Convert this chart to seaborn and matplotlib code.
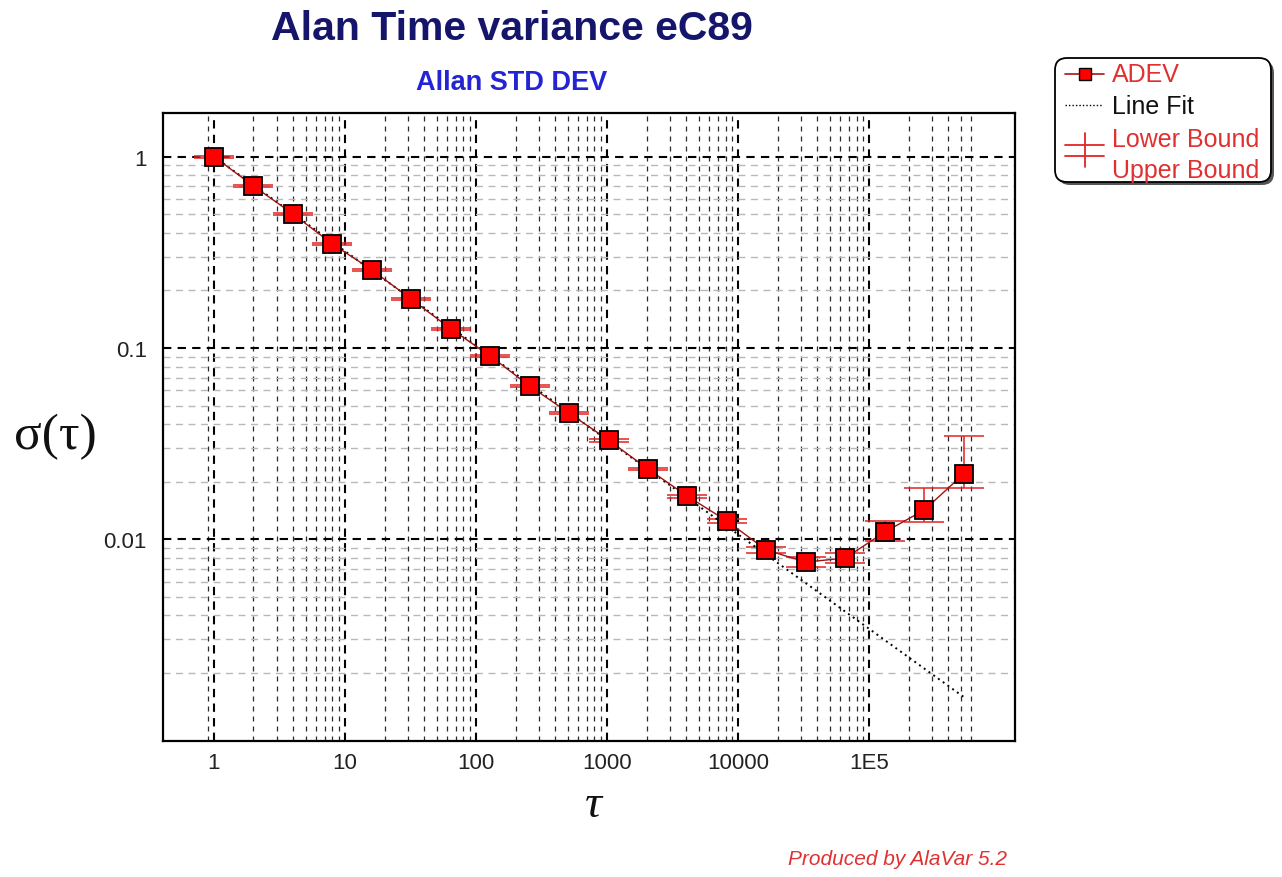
import matplotlib
matplotlib.use("Agg")
import matplotlib.pyplot as plt
import numpy as np
import pandas as pd
import seaborn as sns
from matplotlib.patches import FancyBboxPatch
from matplotlib.lines import Line2D
from matplotlib.ticker import FixedLocator, FixedFormatter, NullFormatter

# ---------------- data ----------------
tau = [1, 2, 4, 8, 16, 32, 64, 128, 256, 512, 1024, 2048, 4096, 8192,
       16384, 32768, 65536, 131072, 262144, 524288]
adev = [1.0, 0.703, 0.502, 0.350, 0.256, 0.180, 0.126, 0.0909, 0.0633, 0.0457,
        0.0330, 0.0233, 0.0168, 0.01247, 0.00879, 0.0076, 0.00798, 0.01091,
        0.01422, 0.02194]
lower = [0.988, 0.695, 0.496, 0.346, 0.253, 0.178, 0.1245, 0.0898, 0.0625, 0.0451,
         0.0324, 0.0229, 0.0165, 0.0122, 0.0085, 0.0072, 0.0075, 0.0098,
         0.0123, 0.01854]
upper = [1.012, 0.711, 0.508, 0.354, 0.259, 0.182, 0.1275, 0.092, 0.0641, 0.0463,
         0.0336, 0.0237, 0.0171, 0.0127, 0.0091, 0.0081, 0.0085, 0.01247,
         0.01854, 0.0347]
fit_tau = [1, 524288]
fit_val = [1.0, 0.0015]

x_ticks = [1, 10, 100, 1000, 10000, 100000]
x_labels = ["1", "10", "100", "1000", "10000", "1E5"]
y_ticks = [0.01, 0.1, 1]
y_labels = ["0.01", "0.1", "1"]

title = "Alan Time variance eC89"
subtitle = "Allan STD DEV"
legend_labels = ["ADEV", "Line Fit", "Lower Bound", "Upper Bound"]

# ---------------- figure ----------------
sns.set_style("white")
plt.rcParams["font.family"] = ["Liberation Sans", "DejaVu Sans"]

W, H = 1282, 878
fig = plt.figure(figsize=(W / 100, H / 100), dpi=100)
left, right, top, bottom = 163.3, 1015, 114, 741.7
ax = fig.add_axes([left / W, 1 - bottom / H, (right - left) / W, (bottom - top) / H])
ax.set_xscale("log")
ax.set_yscale("log")

df = pd.DataFrame({"tau": tau, "adev": adev, "lower": lower, "upper": upper})
fit_df = pd.DataFrame({"tau": fit_tau, "fit": fit_val})

# error bars (bounds)
yerr = [np.array(adev) - np.array(lower), np.array(upper) - np.array(adev)]
ax.errorbar(df["tau"], df["adev"], yerr=yerr, fmt="none", ecolor="#e02424",
            elinewidth=1.1, capsize=14.5, capthick=1.1, zorder=3)

# line fit
sns.lineplot(data=fit_df, x="tau", y="fit", ax=ax, color="black", linewidth=1.4,
             linestyle=(0, (1, 2)), zorder=4, legend=False)

# ADEV
sns.lineplot(data=df, x="tau", y="adev", ax=ax, color="#a01010", linewidth=1.0,
             marker="s", markersize=13, markerfacecolor="#ff0000",
             markeredgecolor="black", markeredgewidth=1.3, zorder=5, legend=False)

ax.set_xlim(0.4104, 1.293e6)
ax.set_ylim(8.856e-4, 1.692)

# minor grid positions (the original program skips some)
x_minor = [0.9]
for dec in [1, 10, 100, 1000, 10000]:
    x_minor += [m * dec for m in range(2, 10)]
x_minor += [2e5, 3e5, 4e5, 5e5, 6e5]
y_minor = []
for dec in [0.001, 0.01, 0.1]:
    y_minor += [m * dec for m in range(2, 10)]

ax.xaxis.set_major_locator(FixedLocator(x_ticks))
ax.xaxis.set_major_formatter(FixedFormatter(x_labels))
ax.yaxis.set_major_locator(FixedLocator(y_ticks))
ax.yaxis.set_major_formatter(FixedFormatter(y_labels))
ax.xaxis.set_minor_locator(FixedLocator(x_minor))
ax.yaxis.set_minor_locator(FixedLocator(y_minor))
ax.xaxis.set_minor_formatter(NullFormatter())
ax.yaxis.set_minor_formatter(NullFormatter())

ax.set_xlabel("")
ax.set_ylabel("")

ax.grid(which="major", axis="both", color="black", linestyle=(0, (4, 3)), linewidth=1.5, zorder=1)
ax.xaxis.grid(which="minor", color="#2a2a2a", linestyle=(0, (4, 4)), linewidth=0.9)
ax.yaxis.grid(which="minor", color="#b8b8b8", linestyle=(0, (5, 4)), linewidth=1.0)
ax.set_axisbelow(True)

ax.tick_params(axis="x", which="major", length=0, pad=8, labelsize=16, labelcolor="#222222")
ax.tick_params(axis="y", which="major", length=5, width=1, direction="out", pad=7,
               labelsize=16, labelcolor="#222222")
ax.tick_params(which="minor", length=0)
for s in ax.spines.values():
    s.set_color("black")
    s.set_linewidth(1.6)

# texts
fig.text(512 / W, 1 - 29 / H, title, ha="center", va="center", fontsize=29.5,
         fontweight="bold", color="#15156b")
fig.text(512 / W, 1 - 83 / H, subtitle, ha="center", va="center", fontsize=19.5,
         fontweight="bold", color="#2424d4")
fig.text(55 / W, 1 - 437 / H, "σ(τ)", ha="center", va="center", fontsize=37,
         family=["Liberation Serif", "DejaVu Serif"], color="#111111")
fig.text(593 / W, 1 - 806 / H, "τ", ha="center", va="center", fontsize=34,
         style="italic", family=["Liberation Serif", "DejaVu Serif"], color="#111111")
fig.text(1007 / W, 1 - 860 / H, "Produced by AlaVar 5.2", ha="right", va="center",
         fontsize=15, style="italic", color="#e03030")

# legend (drawn in its own pixel-coordinate axes)
lx0, lx1, ly0, ly1 = 1040, 1282, 50, 195
lax = fig.add_axes([lx0 / W, 1 - ly1 / H, (lx1 - lx0) / W, (ly1 - ly0) / H])
lax.set_xlim(lx0, lx1)
lax.set_ylim(ly1, ly0)
lax.axis("off")
shadow = FancyBboxPatch((1058, 62), 216, 124, boxstyle="round,pad=0,rounding_size=12",
                        facecolor="#555555", edgecolor="none", zorder=1)
box = FancyBboxPatch((1055, 59), 216, 124, boxstyle="round,pad=0,rounding_size=12",
                     facecolor="white", edgecolor="black", linewidth=1.3, zorder=2)
lax.add_patch(shadow)
lax.add_patch(box)
lax.add_line(Line2D([1065, 1104], [75, 75], color="#b01010", lw=1.2, zorder=3))
lax.add_line(Line2D([1085], [75], marker="s", markersize=9, markerfacecolor="#ff0000",
                    markeredgecolor="black", markeredgewidth=1.0, zorder=4))
lax.add_line(Line2D([1065, 1102], [106, 106], color="black", lw=1.0,
                    linestyle=(0, (1, 1.5)), zorder=3))
lax.add_line(Line2D([1065, 1104], [146, 146], color="#e02424", lw=1.3, zorder=3))
lax.add_line(Line2D([1065, 1104], [157, 157], color="#e02424", lw=1.3, zorder=3))
lax.add_line(Line2D([1085, 1085], [134, 168], color="#e02424", lw=1.3, zorder=3))
leg_y = [75, 107, 140, 171]
leg_c = ["#e03030", "#111111", "#e03030", "#e03030"]
for lbl, yy, cc in zip(legend_labels, leg_y, leg_c):
    lax.text(1112, yy, lbl, ha="left", va="center", fontsize=18, color=cc, zorder=5)

fig.savefig("out.png", dpi=100, facecolor="white")
